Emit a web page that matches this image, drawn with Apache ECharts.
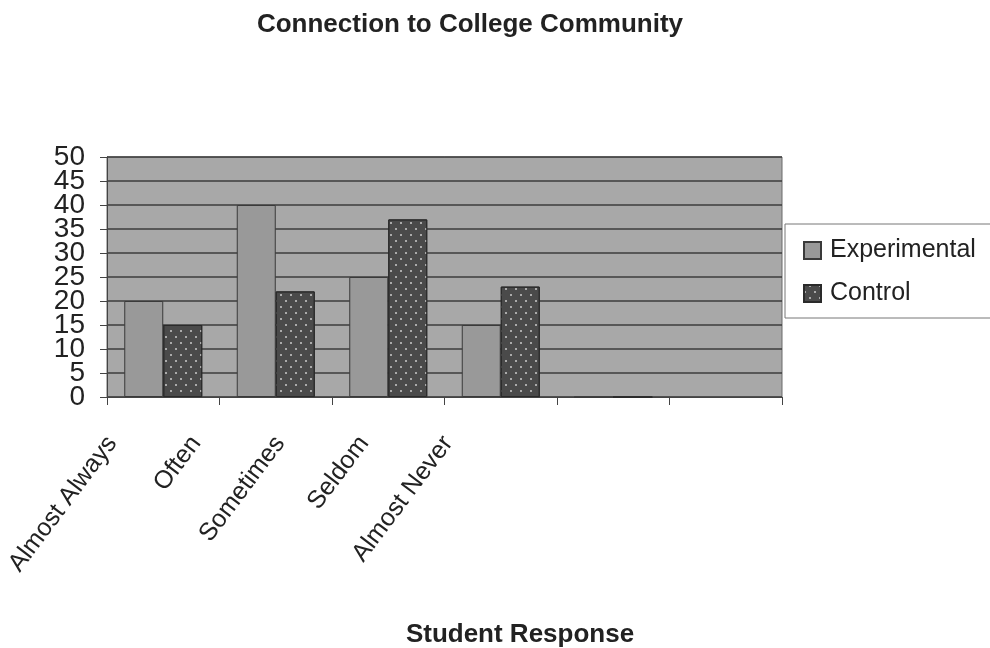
<!DOCTYPE html>
<html>
<head>
<meta charset="utf-8">
<script src="https://cdn.jsdelivr.net/npm/echarts@6/dist/echarts.min.js"></script>
<style>
  html, body { margin: 0; padding: 0; background: #fff; }
  #main { width: 990px; height: 648px; }
</style>
</head>
<body>
<div id="main"></div>
<script>
var categories = ['Almost Always', 'Often', 'Sometimes', 'Seldom', 'Almost Never', ''];
var labelNames = ['Almost Always', 'Often', 'Sometimes', 'Seldom', 'Almost Never'];
var experimental = [20, 40, 25, 15, 0, null];
var control = [15, 22, 37, 23, 0, null];
var yTicks = { min: 0, max: 50, interval: 5 };

var myChart = echarts.init(document.getElementById('main'));
var font = 'Liberation Sans, Arial, sans-serif';
var yLabelStyle = { fontFamily: font, fontSize: 28, color: '#222', margin: 22 };

var option = {
    backgroundColor: '#fff',
    title: [
        {
            text: 'Connection to College Community',
            left: 465, top: 7, textAlign: 'center',
            textStyle: { fontFamily: font, fontSize: 26, fontWeight: 'bold', color: '#222' }
        },
        {
            text: 'Student Response',
            left: 515, top: 617, textAlign: 'center',
            textStyle: { fontFamily: font, fontSize: 26, fontWeight: 'bold', color: '#222' }
        }
    ],
    legend: {
        orient: 'vertical',
        left: 785, top: 224,
        width: 200,
        padding: [14, 30, 12, 18],
        itemGap: 18,
        itemWidth: 17, itemHeight: 17,
        icon: 'rect',
        borderColor: '#777', borderWidth: 1,
        backgroundColor: '#fff',
        textStyle: { fontFamily: font, fontSize: 25, color: '#222', padding: [0, 0, 0, 4] },
        data: ['Experimental', 'Control']
    },
    grid: [
        { left: 107, right: 208, top: 157, bottom: 251, show: true,
          backgroundColor: '#a8a8a8', borderColor: '#6a6a6a', borderWidth: 1 },
        { left: 70, width: 420, top: 157, bottom: 251 }
    ],
    xAxis: [
        {
            type: 'category', gridIndex: 0, data: categories,
            axisLine: { lineStyle: { color: '#444', width: 1 } },
            axisTick: { show: true, length: 8, lineStyle: { color: '#444' } },
            axisLabel: { show: false }
        },
        {
            type: 'category', gridIndex: 1, data: labelNames,
            axisLine: { show: false }, axisTick: { show: false },
            axisLabel: { rotate: 53, margin: 42, interval: 0,
                fontFamily: font, fontSize: 25, color: '#222' }
        }
    ],
    yAxis: [
        {
            // ticks + gridlines every 5; labels only at odd multiples of 5
            type: 'value', gridIndex: 0,
            min: yTicks.min, max: yTicks.max, interval: yTicks.interval,
            axisLine: { show: true, lineStyle: { color: '#444' } },
            axisTick: { show: true, length: 7, lineStyle: { color: '#444' } },
            axisLabel: Object.assign({
                formatter: function (v) { return v % 10 === 5 ? String(v) : ''; }
            }, yLabelStyle),
            splitLine: { lineStyle: { color: '#3c3c3c', width: 1.5 } }
        },
        { type: 'value', gridIndex: 1, show: false, min: 0, max: 1 },
        {
            // the other half of the labels (0, 10, ... 50)
            type: 'value', gridIndex: 0, position: 'left',
            min: yTicks.min, max: yTicks.max, interval: yTicks.interval * 2,
            axisLine: { show: false }, axisTick: { show: false }, splitLine: { show: false },
            axisLabel: Object.assign({ showMinLabel: true, showMaxLabel: true }, yLabelStyle)
        }
    ],
    series: [
        {
            name: 'Experimental',
            type: 'bar',
            xAxisIndex: 0, yAxisIndex: 0,
            barWidth: 39,
            barGap: '0%',
            data: experimental,
            itemStyle: { color: '#999999', borderColor: '#3a3a3a', borderWidth: 1 }
        },
        {
            name: 'Control',
            type: 'bar',
            xAxisIndex: 0, yAxisIndex: 0,
            barWidth: 39,
            data: control,
            itemStyle: {
                color: '#4a4a4a', borderColor: '#2a2a2a', borderWidth: 1,
                decal: {
                    symbol: 'circle',
                    symbolSize: 1,
                    color: 'rgba(225,225,225,0.85)',
                    dashArrayX: [[2, 8], [0, 5, 2, 3]],
                    dashArrayY: [2, 4],
                    rotation: 0
                }
            }
        }
    ]
};
myChart.setOption(option);
</script>
</body>
</html>
